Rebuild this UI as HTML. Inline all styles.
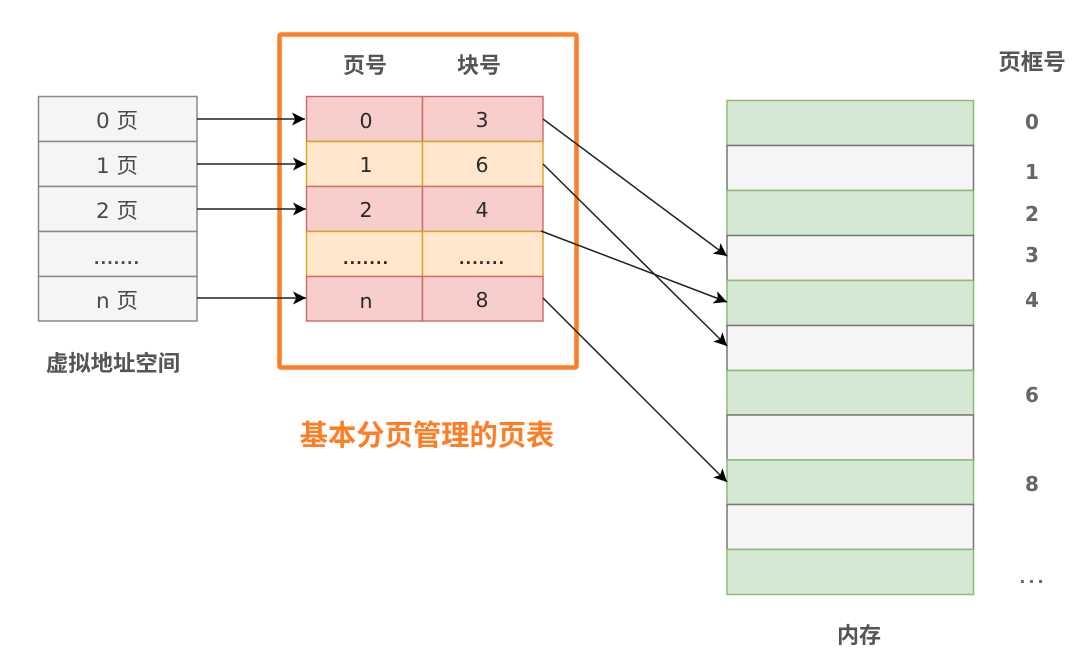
<!DOCTYPE html>
<html><head><meta charset="utf-8">
<style>
html,body{margin:0;padding:0;background:#fff}
svg{display:block;filter:blur(0.35px)}
text{font-family:"DejaVu Sans","Noto Sans CJK SC",sans-serif;text-anchor:middle}
.n{font-size:20.500px;fill:#2a2a2a}
.h{font-size:22px;font-weight:bold;fill:#555}
.v{font-size:20px;fill:#666;font-weight:bold}
.l{font-size:21.500px;fill:#4a4a4a}
.d{font-size:15px;letter-spacing:0.9px;font-weight:bold}
</style></head><body>
<svg width="1080" height="664" viewBox="0 0 1080 664" xmlns="http://www.w3.org/2000/svg">
<defs>
<marker id="a" markerUnits="userSpaceOnUse" markerWidth="15" markerHeight="15" refX="13" refY="7" orient="auto">
<path d="M0,0.5 L13,7 L0,13.5 L3.200,7 Z" fill="#000"/>
</marker>
</defs>
<rect width="1080" height="664" fill="#fff"/>

<!-- left table -->
<g fill="#f5f5f5" stroke="#8a8a8a" stroke-width="1.500">
<rect x="38.500" y="96.500" width="158.500" height="45"/>
<rect x="38.500" y="141.500" width="158.500" height="45"/>
<rect x="38.500" y="186.500" width="158.500" height="45"/>
<rect x="38.500" y="231.500" width="158.500" height="45"/>
<rect x="38.500" y="276.500" width="158.500" height="44.500"/>
</g>
<text class="l" x="117" y="128">0 页</text>
<text class="l" x="117" y="173">1 页</text>
<text class="l" x="117" y="218">2 页</text>
<text class="l d" x="117" y="264">.......</text>
<text class="l" x="117" y="308">n 页</text>
<text x="113" y="371" style="font-size:22.400px;font-weight:bold;fill:#555">虚拟地址空间</text>

<!-- page table -->
<g stroke-width="1.400">
<g fill="#f8cecc" stroke="#c96a66">
<rect x="306.500" y="96.500" width="116" height="45"/>
<rect x="422.500" y="96.500" width="120.500" height="45"/>
</g>
<g fill="#ffe6cc" stroke="#dba11f">
<rect x="306.500" y="141.500" width="116" height="45"/>
<rect x="422.500" y="141.500" width="120.500" height="45"/>
</g>
<g fill="#f8cecc" stroke="#c96a66">
<rect x="306.500" y="186.500" width="116" height="45"/>
<rect x="422.500" y="186.500" width="120.500" height="45"/>
</g>
<g fill="#ffe6cc" stroke="#dba11f">
<rect x="306.500" y="231.500" width="116" height="45"/>
<rect x="422.500" y="231.500" width="120.500" height="45"/>
</g>
<g fill="#f8cecc" stroke="#c96a66">
<rect x="306.500" y="276.500" width="116" height="44.500"/>
<rect x="422.500" y="276.500" width="120.500" height="44.500"/>
</g>
</g>
<text class="n" x="366" y="128">0</text><text class="n" x="482" y="127">3</text>
<text class="n" x="366" y="172">1</text><text class="n" x="482" y="172">6</text>
<text class="n" x="366" y="217">2</text><text class="n" x="482" y="217">4</text>
<text class="n d" x="366" y="264">.......</text><text class="n d" x="482" y="264">.......</text>
<text class="n" x="366" y="308">n</text><text class="n" x="482" y="307">8</text>

<text class="h" x="365" y="73">页号</text>
<text class="h" x="479" y="73">块号</text>

<!-- orange box -->
<rect x="279.500" y="34.500" width="297" height="333" rx="1.500" fill="none" stroke="#fd7e26" stroke-width="4.500"/>

<!-- memory -->
<g stroke-width="1.500">
<rect x="727" y="100.500" width="246.500" height="45" fill="#d5e8d4" stroke="#8fbc74"/>
<rect x="727" y="145.500" width="246.500" height="45" fill="#f5f5f5" stroke="#777"/>
<rect x="727" y="190.500" width="246.500" height="45" fill="#d5e8d4" stroke="#8fbc74"/>
<rect x="727" y="235.500" width="246.500" height="45" fill="#f5f5f5" stroke="#777"/>
<rect x="727" y="280.500" width="246.500" height="45" fill="#d5e8d4" stroke="#8fbc74"/>
<rect x="727" y="325.500" width="246.500" height="45" fill="#f5f5f5" stroke="#777"/>
<rect x="727" y="370.500" width="246.500" height="44.500" fill="#d5e8d4" stroke="#8fbc74"/>
<rect x="727" y="415" width="246.500" height="45" fill="#f5f5f5" stroke="#777"/>
<rect x="727" y="460" width="246.500" height="44.500" fill="#d5e8d4" stroke="#8fbc74"/>
<rect x="727" y="504.500" width="246.500" height="45" fill="#f5f5f5" stroke="#777"/>
<rect x="727" y="549.500" width="246.500" height="45" fill="#d5e8d4" stroke="#8fbc74"/>
</g>

<text class="h" x="1032" y="70" style="font-size:22.500px">页框号</text>
<text class="v" x="1032" y="129">0</text>
<text class="v" x="1032" y="179">1</text>
<text class="v" x="1032" y="221">2</text>
<text class="v" x="1032" y="262">3</text>
<text class="v" x="1032" y="307">4</text>
<text class="v" x="1032" y="402">6</text>
<text class="v" x="1032" y="491">8</text>
<text x="1033" y="583" style="font-size:16px;font-weight:bold;fill:#666;letter-spacing:3px">...</text>
<text class="h" x="859" y="643">内存</text>

<!-- arrows -->
<g fill="none" stroke="#222" stroke-width="1.500" marker-end="url(#a)">
<path d="M197 119H305"/>
<path d="M197 164H306"/>
<path d="M197 209H306"/>
<path d="M197 298H306"/>
<path d="M543 119L727 256"/>
<path d="M543 164L727 346"/>
<path d="M541 231L727 302"/>
<path d="M543 298L727 482"/>
</g>

<text x="427" y="445" style="font-size:28.300px;font-weight:bold;fill:#fd7e26">基本分页管理的页表</text>
</svg>
</body></html>
